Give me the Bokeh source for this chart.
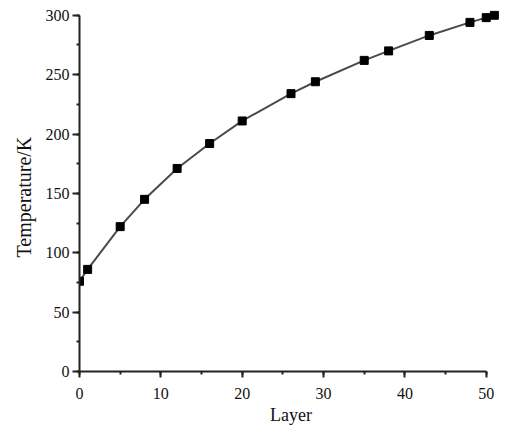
from bokeh.plotting import figure
from bokeh.models import Range1d, SingleIntervalTicker, Title
from bokeh.embed import file_html
from bokeh.resources import INLINE

layer = [0, 1, 5, 8, 12, 16, 20, 26, 29, 35, 38, 43, 48, 50, 51]
temperature = [76, 86, 122, 145, 171, 192, 211, 234, 244, 262, 270, 283, 294, 298, 300]
x_label = "Layer"
y_label = "Temperature/K"

FONT = "Liberation Serif"

p = figure(width=514, height=427, output_backend="svg", toolbar_location=None,
           x_range=Range1d(0, 52), y_range=Range1d(0, 304),
           min_border_left=79, min_border_right=12, min_border_top=10, min_border_bottom=56)
p.outline_line_color = None
p.grid.visible = False
p.background_fill_color = "white"
p.border_fill_color = "white"

p.line(layer, temperature, line_color="#4a4a4a", line_width=2)
p.scatter(layer, temperature, marker="square", size=8, fill_color="black", line_color="black")

for ax, tick, bounds in ((p.xaxis[0], 10, (0, 50)), (p.yaxis[0], 50, (0, 300))):
    ax.ticker = SingleIntervalTicker(interval=tick, num_minor_ticks=2)
    ax.bounds = bounds
    ax.axis_line_color = "#222222"
    ax.axis_line_width = 2
    ax.major_tick_line_color = "#222222"
    ax.major_tick_line_width = 2
    ax.minor_tick_line_color = "#222222"
    ax.minor_tick_line_width = 2
    ax.major_tick_in = 0
    ax.minor_tick_in = 0
    ax.minor_tick_out = 3
    ax.major_label_text_font = FONT
    ax.major_label_text_font_size = "16px"
    ax.major_label_text_color = "#111111"
    ax.axis_label_text_font = FONT
    ax.axis_label_text_font_size = "18px"
    ax.axis_label_text_font_style = "normal"
    ax.axis_label_text_color = "#111111"

p.xaxis.major_tick_out = 6
p.xaxis.major_label_standoff = 10
p.xaxis.axis_label = x_label
p.xaxis.axis_label_standoff = 3

p.yaxis.major_tick_out = 7
p.yaxis.major_label_standoff = 3

ytitle = Title(text=y_label, align="left", offset=114, standoff=15,
               text_font=FONT, text_font_size="20px", text_font_style="normal",
               text_color="#111111")
p.add_layout(ytitle, "left")

open("out.html", "w").write(file_html(p, INLINE))
